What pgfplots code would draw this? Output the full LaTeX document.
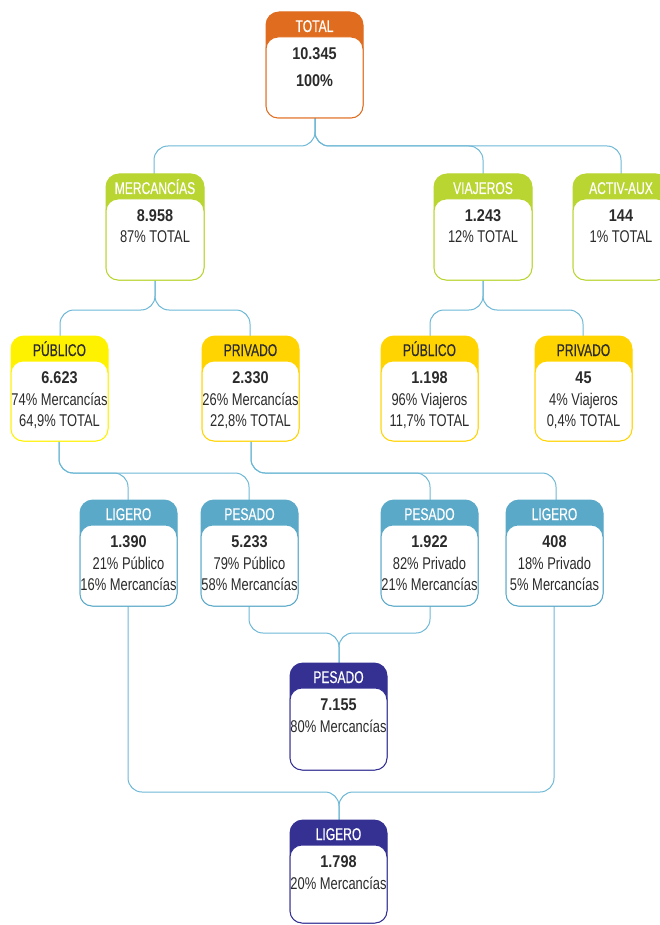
\documentclass[border=0pt]{standalone}
\usepackage{pgfplots}
\pgfplotsset{compat=1.18}
\usepackage{fontspec}
\setmainfont{Liberation Sans}[FakeStretch=0.76]
\newfontfamily\hdrfont{Liberation Sans}[FakeStretch=0.71, FakeBold=0.4]
\newfontfamily\valfont{Liberation Sans}[FakeStretch=0.85]
\definecolor{corange}{HTML}{E06D1F}
\definecolor{cgreen}{HTML}{B9D531}
\definecolor{cyellow}{HTML}{FFF200}
\definecolor{cgold}{HTML}{FFD400}
\definecolor{cteal}{HTML}{5AA9C8}
\definecolor{cnavy}{HTML}{343193}
\definecolor{cline}{HTML}{6CB7D5}
\definecolor{ctext}{HTML}{2B2B2B}
% #1 cx, #2 left, #3 right, #4 top, #5 bottom, #6 colour, #7 header text colour, #8 header
\newcommand{\tbox}[8]{%
  \filldraw[draw=#6, fill=#6, line width=1pt, rounded corners=13pt] (axis cs:#2,#4) rectangle (axis cs:#3,#5);
  \filldraw[draw=#6, fill=white, line width=1pt, rounded corners=12pt] ([yshift=-25pt]axis cs:#2,#4) rectangle (axis cs:#3,#5);
  \node[anchor=base, text=#7, font=\hdrfont\fontsize{17}{20}\selectfont] at ([yshift=-20pt]axis cs:#1,#4) {#8};
}
% #1 cx, #2 top, #3 offset, #4 text
\newcommand{\bl}[4]{\node[anchor=base, text=ctext, font=\fontsize{17}{20}\selectfont] at ([yshift=-#3pt]axis cs:#1,#2) {#4};}
\newcommand{\bv}[4]{\node[anchor=base, text=ctext, font=\valfont\bfseries\fontsize{17}{20}\selectfont] at ([yshift=-#3pt]axis cs:#1,#2) {#4};}
\begin{document}
\begin{tikzpicture}
\begin{axis}[
  width=660pt, height=925pt, scale only axis,
  xmin=0, xmax=660, ymin=0, ymax=925, y dir=reverse,
  axis lines=none, ticks=none,
  clip=true,
]
% connectors
\pgfplotsset{conn/.style={cline, line width=1pt, rounded corners=14pt, no marks}}
\addplot[conn] coordinates {(315,118) (315,146) (154,146) (154,174)};
\addplot[conn] coordinates {(315,118) (315,146) (483,146) (483,174)};
\addplot[conn] coordinates {(315,118) (315,146) (621,146) (621,174)};
\addplot[conn] coordinates {(155,280) (155,310) (60,310) (60,336)};
\addplot[conn] coordinates {(155,280) (155,310) (250,310) (250,336)};
\addplot[conn] coordinates {(483,280) (483,310) (430,310) (430,336)};
\addplot[conn] coordinates {(483,280) (483,310) (583,310) (583,336)};
\addplot[conn] coordinates {(59,441) (59,473) (128,473) (128,500)};
\addplot[conn] coordinates {(59,441) (59,473) (249,473) (249,500)};
\addplot[conn] coordinates {(251,441) (251,473) (430,473) (430,500)};
\addplot[conn] coordinates {(251,441) (251,473) (556,473) (556,500)};
\addplot[conn] coordinates {(249,606) (249,633) (339,633) (339,663)};
\addplot[conn] coordinates {(430,606) (430,633) (339,633) (339,663)};
\addplot[conn] coordinates {(128,606) (128,792) (339,792) (339,820)};
\addplot[conn] coordinates {(554,606) (554,792) (339,792) (339,820)};
% boxes
\tbox{314.5}{266}{363}{12}{118}{corange}{white}{TOTAL}
\bv{314.5}{12}{48}{10.345}
\bv{314.5}{12}{75}{100\%}
\tbox{155}{106}{204}{174}{280}{cgreen}{white}{MERCANCÍAS}
\bv{155}{174}{48}{8.958}
\bl{155}{174}{69}{87\% TOTAL}
\tbox{483}{434}{532}{174}{280}{cgreen}{white}{VIAJEROS}
\bv{483}{174}{48}{1.243}
\bl{483}{174}{69}{12\% TOTAL}
\tbox{621}{573}{669}{174}{280}{cgreen}{white}{ACTIV-AUX}
\bv{621}{174}{48}{144}
\bl{621}{174}{69}{1\% TOTAL}
\tbox{59.5}{11}{108}{336}{441}{cyellow}{ctext}{PÚBLICO}
\bv{59.5}{336}{47}{6.623}
\bl{59.5}{336}{69}{74\% Mercancías}
\bl{59.5}{336}{90}{64,9\% TOTAL}
\tbox{250.5}{202}{299}{336}{441}{cgold}{ctext}{PRIVADO}
\bv{250.5}{336}{47}{2.330}
\bl{250.5}{336}{69}{26\% Mercancías}
\bl{250.5}{336}{90}{22,8\% TOTAL}
\tbox{429.5}{381}{478}{336}{441}{cgold}{ctext}{PÚBLICO}
\bv{429.5}{336}{47}{1.198}
\bl{429.5}{336}{69}{96\% Viajeros}
\bl{429.5}{336}{90}{11,7\% TOTAL}
\tbox{583.5}{535}{632}{336}{441}{cgold}{ctext}{PRIVADO}
\bv{583.5}{336}{47}{45}
\bl{583.5}{336}{69}{4\% Viajeros}
\bl{583.5}{336}{90}{0,4\% TOTAL}
\tbox{128.5}{80}{177}{500}{606}{cteal}{white}{LIGERO}
\bv{128.5}{500}{47}{1.390}
\bl{128.5}{500}{69}{21\% Público}
\bl{128.5}{500}{90}{16\% Mercancías}
\tbox{249.5}{201}{298}{500}{606}{cteal}{white}{PESADO}
\bv{249.5}{500}{47}{5.233}
\bl{249.5}{500}{69}{79\% Público}
\bl{249.5}{500}{90}{58\% Mercancías}
\tbox{429.5}{381}{478}{500}{606}{cteal}{white}{PESADO}
\bv{429.5}{500}{47}{1.922}
\bl{429.5}{500}{69}{82\% Privado}
\bl{429.5}{500}{90}{21\% Mercancías}
\tbox{554.5}{506}{603}{500}{606}{cteal}{white}{LIGERO}
\bv{554.5}{500}{47}{408}
\bl{554.5}{500}{69}{18\% Privado}
\bl{554.5}{500}{90}{5\% Mercancías}
\tbox{338.5}{290}{387}{663}{770}{cnavy}{white}{PESADO}
\bv{338.5}{663}{47}{7.155}
\bl{338.5}{663}{69}{80\% Mercancías}
\tbox{338.5}{290}{387}{820}{923}{cnavy}{white}{LIGERO}
\bv{338.5}{820}{47}{1.798}
\bl{338.5}{820}{69}{20\% Mercancías}
\end{axis}
\pgfresetboundingbox
\path (current axis.south west) rectangle (current axis.north east);
\end{tikzpicture}
\end{document}
